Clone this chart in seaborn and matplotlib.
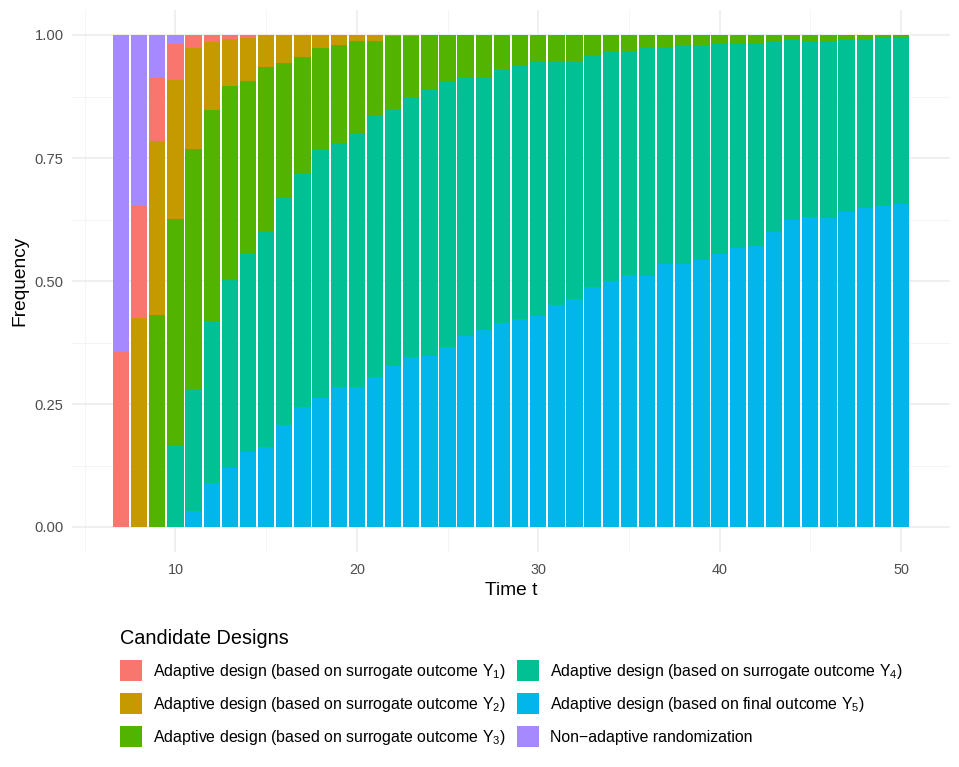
import matplotlib
matplotlib.use("Agg")
import numpy as np
import pandas as pd
import seaborn as sns
import matplotlib.pyplot as plt
from matplotlib.patches import Patch
from matplotlib.ticker import FixedLocator

# ---- data ----
t = list(range(7, 51))
y5 = [0, 0, 0, 0,
      .033, .089, .120, .152, .162, .207, .244, .262, .284, .284,
      .304, .327, .345, .348, .365, .388, .400, .414, .422, .428,
      .451, .464, .488, .499, .512, .510, .535, .535, .543, .555,
      .568, .572, .599, .623, .630, .629, .641, .649, .653, .657]
y4 = [0, 0, 0, .165,
      .247, .329, .383, .403, .437, .462, .473, .505, .496, .515,
      .533, .522, .526, .543, .540, .525, .513, .517, .517, .519,
      .496, .483, .469, .466, .455, .463, .438, .444, .436, .427,
      .414, .410, .389, .368, .357, .359, .350, .342, .342, .338]
y3 = [0, 0, .430, .461,
      .488, .429, .394, .352, .336, .274, .238, .206, .199, .189,
      .151, .148, .126, .109, .095, .087, .087, .069, .061, .053,
      .053, .053, .043, .035, .033, .027, .027, .021, .021, .018,
      .018, .018, .012, .009, .013, .012, .009, .009, .005, .005]
y2 = [0, .424, .355, .283,
      .205, .139, .094, .087, .065, .057, .045, .027, .021, .012,
      .012, .003, .003] + [0] * 27
y1 = [.356, .228, .128, .072, .027, .014, .009, .006] + [0] * 36
na = [.644, .348, .087, .019] + [0] * 40

x_ticks = [10, 20, 30, 40, 50]
y_ticks = [0, .25, .5, .75, 1.0]
y_tick_labels = ["0.00", "0.25", "0.50", "0.75", "1.00"]

labels = [
    r"Adaptive design (based on surrogate outcome $\mathregular{Y_1}$)",
    r"Adaptive design (based on surrogate outcome $\mathregular{Y_2}$)",
    r"Adaptive design (based on surrogate outcome $\mathregular{Y_3}$)",
    r"Adaptive design (based on surrogate outcome $\mathregular{Y_4}$)",
    r"Adaptive design (based on final outcome $\mathregular{Y_5}$)",
    "Non\u2212adaptive randomization",
]
colors = ["#F8766D", "#C49A00", "#53B400", "#00C094", "#00B6EB", "#A58AFF"]
series = [y1, y2, y3, y4, y5, na]

rows = []
for lab, vals in zip(labels, series):
    for tt, v in zip(t, vals):
        rows.append({"t": tt, "freq": v, "design": lab})
df = pd.DataFrame(rows)

# ---- plot ----
plt.rcParams["font.family"] = ["Liberation Sans", "DejaVu Sans"]
plt.rcParams["mathtext.fontset"] = "custom"
plt.rcParams["mathtext.rm"] = "Liberation Sans"

fig = plt.figure(figsize=(9.59, 7.67), dpi=100)
ax = fig.add_axes([72 / 959, 1 - 551.6 / 767, (950 - 72) / 959, (551.6 - 10.4) / 767])

# seaborn stacks the first hue level on top
hue_order = [labels[5], labels[0], labels[1], labels[2], labels[3], labels[4]]
pal = dict(zip(labels, colors))
sns.histplot(data=df, x="t", weights="freq", hue="design", hue_order=hue_order,
             palette=pal, multiple="stack", discrete=True, shrink=0.9,
             linewidth=0, alpha=1, legend=False, ax=ax)

ax.set_xlim(4.3, 52.7)
ax.set_ylim(-0.05, 1.05)
ax.xaxis.set_major_locator(FixedLocator(x_ticks))
ax.xaxis.set_minor_locator(FixedLocator([5, 15, 25, 35, 45]))
ax.yaxis.set_major_locator(FixedLocator(y_ticks))
ax.yaxis.set_minor_locator(FixedLocator([.125, .375, .625, .875]))
ax.set_yticklabels(y_tick_labels)
ax.set_axisbelow(True)
ax.grid(which="major", color="#EBEBEB", linewidth=1.1)
ax.grid(which="minor", color="#F2F2F2", linewidth=0.6)
for s in ax.spines.values():
    s.set_visible(False)
ax.tick_params(which="both", length=0)
ax.tick_params(axis="x", labelsize=10.4, labelcolor="#4D4D4D", pad=8.4)
ax.tick_params(axis="y", labelsize=10.6, labelcolor="#4D4D4D", pad=6)
ax.set_xlabel("Time t", fontsize=13.8, labelpad=3.2)
ax.set_ylabel("Frequency", fontsize=13.8, labelpad=4)

handles = [Patch(facecolor=c, edgecolor="none") for c in colors]
leg = fig.legend(handles, labels, loc="upper left", bbox_to_anchor=(120 / 959, 1 - 629.5 / 767),
                 ncol=2, frameon=False, fontsize=11.4, title="Candidate Designs",
                 title_fontsize=14.3, alignment="left", handlelength=1.39,
                 handleheight=1.66, handletextpad=0.67, labelspacing=0.75,
                 columnspacing=0.75, borderpad=0, borderaxespad=0)

fig.savefig("out.png", dpi=100, facecolor="white")
